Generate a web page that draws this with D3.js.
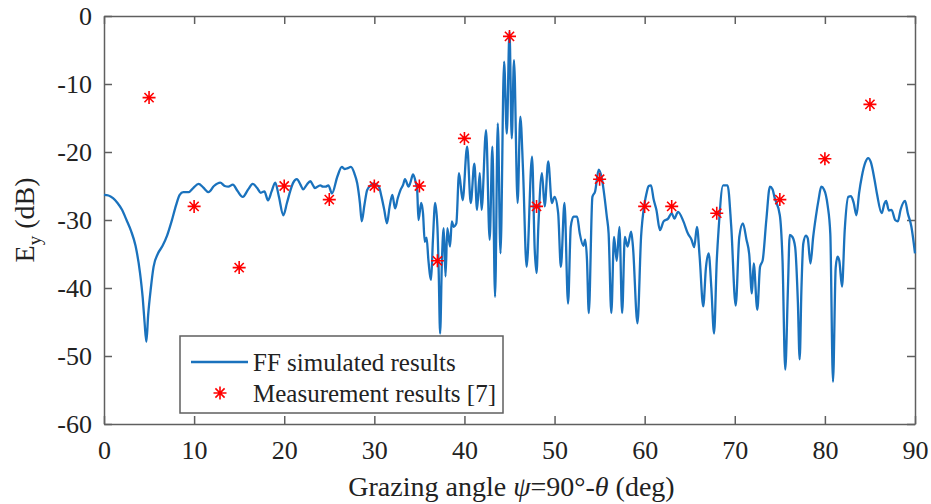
<!DOCTYPE html>
<html>
<head>
<meta charset="utf-8">
<script src="https://cdn.jsdelivr.net/npm/d3@7"></script>
<style>
  html, body { margin: 0; padding: 0; background: #fff; }
  svg { display: block; }
  text { font-family: "Liberation Serif", "Times New Roman", serif; fill: #222; }
</style>
</head>
<body>
<svg id="chart" width="931" height="504"></svg>
<script>
// Far-field simulated E_y (dB) versus grazing angle (deg)
const angleDeg = [
  0, 0.5, 1.0, 1.5, 2.0, 2.5, 3.0, 3.5, 4.0, 4.3, 4.5, 4.7, 4.9, 5.2, 5.5, 6.0, 6.5, 7.0, 7.5, 8.0,
  8.4, 8.8, 9.4, 9.9, 10.5, 11.0, 11.6, 12.2, 12.9, 13.4, 13.8, 14.3, 14.8, 15.4, 16.0, 16.5, 17.0, 17.4, 17.8, 18.2,
  18.6, 19.0, 19.4, 19.9, 20.3, 20.7, 21.0, 21.4, 21.8, 22.1, 22.5, 22.9, 23.2, 23.4, 24.0, 24.3, 24.6, 24.9, 25.3, 25.9,
  26.4, 26.7, 27.0, 27.4, 27.8, 28.1, 28.4, 28.6, 28.9, 29.2, 29.6, 29.9, 30.2, 30.5, 30.8, 31.1, 31.4, 31.7, 32.0, 32.3,
  32.6, 32.9, 33.2, 33.4, 33.8, 34.0, 34.3, 34.6, 34.75, 34.9, 35.2, 35.4, 35.6, 35.8, 36.0, 36.3, 36.5, 36.75, 37.0, 37.15,
  37.3, 37.5, 37.7, 37.9, 38.1, 38.4, 38.6, 38.8, 39.1, 39.4, 39.8, 40.3, 40.7, 41.1, 41.4, 41.7, 41.9, 42.4, 42.8, 43.1,
  43.4, 43.7, 44.0, 44.4, 44.7, 45.0, 45.25, 45.5, 45.9, 46.2, 46.5, 46.9, 47.5, 47.8, 48.0, 48.2, 48.6, 48.9, 49.3, 49.7,
  50.0, 50.4, 50.7, 51.1, 51.5, 51.8, 52.1, 52.5, 52.8, 53.2, 53.4, 53.6, 53.8, 54.2, 54.5, 54.9, 55.2, 55.8, 56.0, 56.3,
  56.6, 56.9, 57.2, 57.5, 57.8, 58.1, 58.5, 58.7, 59.2, 59.6, 60.0, 60.2, 60.45, 60.7, 61.0, 61.3, 61.7, 62.1, 62.6, 63.0,
  63.3, 63.7, 64.3, 64.8, 65.2, 65.5, 65.8, 66.1, 66.5, 66.8, 67.1, 67.4, 67.7, 68.0, 68.2, 68.7, 69.2, 69.6, 70.1, 70.5,
  70.9, 71.3, 71.6, 71.9, 72.1, 72.5, 72.8, 73.1, 73.5, 73.9, 74.2, 74.4, 75.0, 75.3, 75.6, 75.9, 76.1, 76.4, 76.7, 77.0,
  77.2, 77.4, 77.6, 77.9, 78.1, 78.4, 78.7, 79.0, 79.3, 79.6, 79.9, 80.3, 80.6, 80.9, 81.2, 81.4, 81.6, 81.9, 82.2, 82.6,
  82.9, 83.2, 83.5, 83.8, 84.1, 84.5, 84.8, 85.1, 85.5, 85.8, 86.3, 86.6, 86.8, 87.1, 87.4, 87.8, 88.1, 88.4, 88.9, 89.2,
  89.6, 90.0
];
const simulatedDb = [
  -26.3, -26.4, -26.8, -27.5, -28.5, -30.0, -31.6, -33.8, -37.8, -41.5, -45.0, -47.9, -44.0, -40.0, -36.9, -34.9, -33.8, -32.3, -30.2, -27.8,
  -26.3, -25.9, -25.9, -25.3, -24.7, -25.2, -25.9, -25.0, -24.5, -25.0, -25.1, -24.8, -25.7, -26.6, -25.5, -24.7, -25.3, -26.0, -25.8, -27.1,
  -25.8, -24.5, -26.5, -29.3, -27.5, -25.6, -24.5, -24.0, -24.8, -25.5, -24.8, -24.3, -24.9, -25.3, -24.9, -25.1, -25.1, -24.9, -26.1, -23.6,
  -22.2, -22.5, -22.4, -22.2, -23.2, -24.6, -27.5, -30.2, -27.8, -25.6, -24.9, -24.6, -24.8, -25.1, -26.6, -28.5, -30.5, -28.0, -26.3, -28.3,
  -26.8, -25.6, -24.8, -24.0, -25.1, -24.5, -23.3, -24.5, -25.5, -30.0, -27.5, -29.0, -33.2, -32.6, -35.9, -38.8, -33.0, -27.5, -31.0, -38.0,
  -46.7, -36.0, -31.2, -38.3, -31.2, -33.9, -30.2, -31.0, -30.5, -23.1, -27.1, -19.2, -27.5, -21.7, -28.5, -23.1, -28.5, -16.8, -32.9, -19.2,
  -41.3, -15.8, -34.9, -6.7, -17.3, -2.3, -18.0, -6.5, -27.5, -14.8, -22.6, -36.9, -20.7, -34.4, -37.8, -31.0, -23.1, -28.0, -21.4, -27.5,
  -26.6, -29.0, -36.9, -27.5, -42.3, -31.0, -29.5, -29.5, -32.0, -33.8, -32.9, -35.9, -43.7, -26.6, -25.8, -22.6, -23.6, -29.5, -32.0, -43.7,
  -32.5, -36.0, -31.0, -43.7, -32.5, -33.9, -31.7, -33.9, -45.2, -32.5, -27.5, -26.1, -25.0, -24.9, -27.0, -28.5, -31.5, -30.2, -29.8, -29.0,
  -29.8, -28.8, -30.2, -32.0, -32.9, -34.0, -31.0, -35.4, -42.7, -37.0, -34.9, -40.0, -46.7, -36.0, -31.5, -24.9, -24.9, -30.8, -42.6, -32.5,
  -30.5, -32.9, -35.0, -40.8, -36.4, -43.2, -36.9, -35.9, -30.0, -25.1, -25.5, -26.6, -29.3, -36.0, -52.0, -40.0, -32.2, -32.5, -34.0, -42.0,
  -50.5, -40.0, -33.5, -32.3, -32.7, -36.4, -32.5, -29.5, -27.0, -25.1, -25.5, -27.8, -32.0, -53.8, -37.0, -35.4, -36.0, -39.8, -31.5, -26.6,
  -26.5, -27.5, -29.3, -26.0, -23.6, -21.5, -20.9, -21.5, -24.0, -26.3, -29.0, -27.6, -27.2, -28.6, -28.5, -30.0, -30.2, -28.5, -27.2, -29.0,
  -31.0, -34.9
];

// Measured values with reference [7]
const measuredAngle = [5, 10, 15, 20, 25, 30, 35, 37, 40, 45, 48, 55, 60, 63, 68, 75, 80, 85];
const measuredDb = [-12, -28, -37, -25, -27, -25, -25, -36, -18, -3, -28, -24, -28, -28, -29, -27, -21, -13];

const xTicks = [0, 10, 20, 30, 40, 50, 60, 70, 80, 90];
const yTicks = [0, -10, -20, -30, -40, -50, -60];
const seriesNames = ["FF simulated results", "Measurement results [7]"];

const svg = d3.select("#chart");
const plot = { left: 104, right: 915, top: 16, bottom: 424 };

const x = d3.scaleLinear().domain([0, 90]).range([plot.left, plot.right]);
const y = d3.scaleLinear().domain([-60, 0]).range([plot.bottom, plot.top]);

const axisColor = "#5f5f5f";
const fmt = d => String(d);

// Bottom and left axes with inward ticks and labels
const gx = svg.append("g").attr("transform", `translate(0,${plot.bottom})`)
  .call(d3.axisBottom(x).tickValues(xTicks).tickFormat(fmt).tickSizeInner(-8).tickSizeOuter(0).tickPadding(17));
const gy = svg.append("g").attr("transform", `translate(${plot.left},0)`)
  .call(d3.axisLeft(y).tickValues(yTicks).tickFormat(fmt).tickSizeInner(-8).tickSizeOuter(0).tickPadding(12));
// Mirrored top and right axes, ticks only
const gxt = svg.append("g").attr("transform", `translate(0,${plot.top})`)
  .call(d3.axisTop(x).tickValues(xTicks).tickFormat("").tickSizeInner(-8).tickSizeOuter(0));
const gyr = svg.append("g").attr("transform", `translate(${plot.right},0)`)
  .call(d3.axisRight(y).tickValues(yTicks).tickFormat("").tickSizeInner(-8).tickSizeOuter(0));

[gx, gy, gxt, gyr].forEach(g => {
  g.select(".domain").attr("stroke", axisColor).attr("stroke-width", 1.5);
  g.selectAll(".tick line").attr("stroke", axisColor).attr("stroke-width", 1.5);
  g.selectAll(".tick text").attr("font-family", "Liberation Serif, serif")
    .attr("font-size", 26).attr("fill", "#222");
});
gx.selectAll(".tick text").attr("dy", "0.71em");

// Simulated curve
const pts = angleDeg.map((a, i) => [a, simulatedDb[i]]);
const line = d3.line().x(d => x(d[0])).y(d => y(d[1])).curve(d3.curveMonotoneX);
svg.append("path")
  .datum(pts)
  .attr("d", line)
  .attr("fill", "none")
  .attr("stroke", "#1a72bd")
  .attr("stroke-width", 2.3)
  .attr("stroke-linejoin", "round");

// Asterisk marker (plus + cross)
function asterisk(cx, cy, r) {
  const d = r * Math.SQRT1_2;
  return `M${cx - r},${cy}L${cx + r},${cy}M${cx},${cy - r}L${cx},${cy + r}` +
         `M${cx - d},${cy - d}L${cx + d},${cy + d}M${cx - d},${cy + d}L${cx + d},${cy - d}`;
}
const meas = measuredAngle.map((a, i) => [a, measuredDb[i]]);
svg.append("g").selectAll("path")
  .data(meas)
  .join("path")
  .attr("d", d => asterisk(x(d[0]), y(d[1]), 6.5))
  .attr("stroke", "#ff0000")
  .attr("stroke-width", 1.6)
  .attr("fill", "none");

// Legend
const lg = svg.append("g");
lg.append("rect").attr("x", 180).attr("y", 336).attr("width", 323).attr("height", 77)
  .attr("fill", "#fff").attr("stroke", axisColor).attr("stroke-width", 1.5);
lg.append("line").attr("x1", 191).attr("x2", 248).attr("y1", 362).attr("y2", 362)
  .attr("stroke", "#1a72bd").attr("stroke-width", 2.3);
lg.append("path").attr("d", asterisk(220, 393, 6.5))
  .attr("stroke", "#ff0000").attr("stroke-width", 1.6).attr("fill", "none");
lg.append("text").attr("x", 253).attr("y", 371).attr("font-size", 25).text(seriesNames[0]);
lg.append("text").attr("x", 253).attr("y", 402).attr("font-size", 25).text(seriesNames[1]);

// Axis titles
const xt = svg.append("text").attr("x", (plot.left + plot.right) / 2 + 2).attr("y", 496)
  .attr("text-anchor", "middle").attr("font-size", 28);
xt.append("tspan").text("Grazing angle ");
xt.append("tspan").attr("font-style", "italic").text("ψ");
xt.append("tspan").text("=90°-");
xt.append("tspan").attr("font-style", "italic").text("θ");
xt.append("tspan").text(" (deg)");

const yt = svg.append("text")
  .attr("transform", `translate(34,${(plot.top + plot.bottom) / 2}) rotate(-90)`)
  .attr("text-anchor", "middle").attr("font-size", 28);
yt.append("tspan").text("E");
yt.append("tspan").attr("font-size", 19).attr("dy", 7).text("y");
yt.append("tspan").attr("dy", -7).text(" (dB)");
</script>
</body>
</html>
